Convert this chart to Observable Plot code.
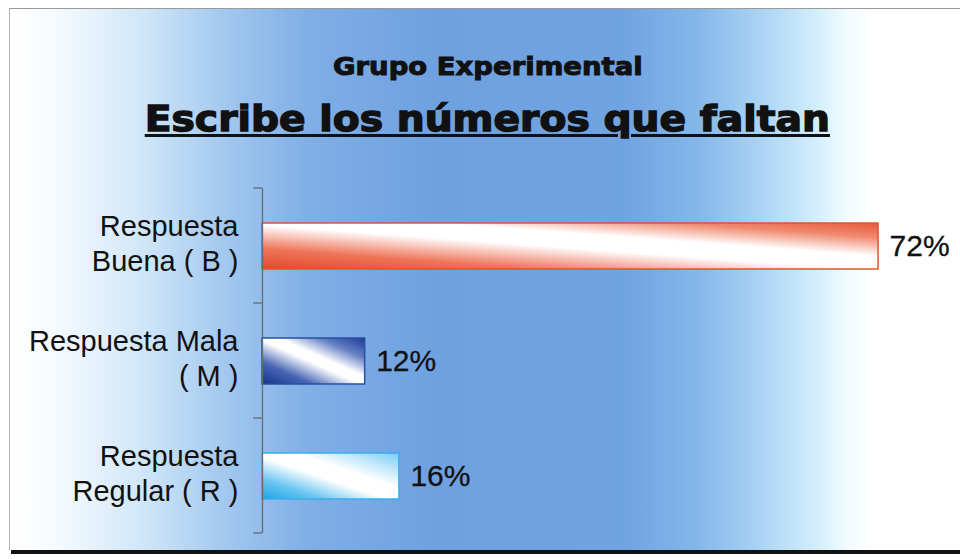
<!DOCTYPE html>
<html>
<head>
<meta charset="utf-8">
<script src="https://cdn.jsdelivr.net/npm/d3@7"></script>
<script src="https://cdn.jsdelivr.net/npm/@observablehq/plot@0.6"></script>
<style>
  html, body { margin: 0; padding: 0; background: #ffffff; }
  #wrap { position: relative; width: 960px; height: 559px; overflow: hidden; background: #fff; }
  #frame {
    position: absolute; left: 9px; top: 8px; width: 960px; height: 541px;
    border-top: 1px solid #9a9a9a; border-left: 1px solid #b4b4b4;
    background: linear-gradient(to right,
      #ffffff 0%, #f5fafe 5%, #cfe6f8 14%, #9fc6ee 23%, #80afe6 31%,
      #6fa1e1 44%, #70a3e1 64%, #86b8ea 72%, #a9d3f4 78%, #d2eefc 84%,
      #f0fbff 87%, #ffffff 90%, #ffffff 100%);
  }
  #bottomline { position: absolute; left: 11px; top: 550px; width: 960px; height: 4px; background: #111; }
  .title { position: absolute; left: 0; width: 960px; text-align: center; color: #111;
           font-family: "DejaVu Sans", sans-serif; font-weight: bold; box-sizing: border-box; padding-left: 15px; }
  .title span { display: inline-block; transform-origin: center; }
  #sub { top: 54px; font-size: 25px; line-height: 25px; }
  #sub span { transform: scaleX(1.1); -webkit-text-stroke: 1px #111; }
  #main { top: 101px; font-size: 36px; line-height: 36px; }
  #main span { transform: scaleX(1.09); -webkit-text-stroke: 1.4px #111; text-decoration: underline; text-decoration-thickness: 3px; text-underline-offset: 3px; }
  #chart { position: absolute; left: 0; top: 170px; }
</style>
</head>
<body>
<div id="wrap">
  <div id="frame"></div>
  <div id="bottomline"></div>
  <div class="title" id="sub"><span>Grupo Experimental</span></div>
  <div class="title" id="main"><span>Escribe los números que faltan</span></div>
  <div id="chart"></div>
</div>
<script>
// ---- data ----
const categories = ["Respuesta\nBuena ( B )", "Respuesta Mala\n( M )", "Respuesta\nRegular ( R )"];
const values = [72, 12, 16];
const valueLabels = ["72%", "12%", "16%"];

// ---- styles (kept apart from data) ----
const gradientIds = ["gradB", "gradM", "gradR"];
const strokeColors = ["#e4532f", "#2b4ea3", "#38aff0"];
const gradientStops = [
  [["0%", "#e4482a"], ["22%", "#ee7458"], ["48%", "#ffffff"], ["64%", "#ffffff"], ["84%", "#f08a70"], ["100%", "#e6583a"]],
  [["0%", "#15348c"], ["24%", "#4665b4"], ["48%", "#ffffff"], ["58%", "#ffffff"], ["78%", "#6580c4"], ["100%", "#1b3b95"]],
  [["0%", "#1aa3e8"], ["22%", "#6cc6f1"], ["46%", "#ffffff"], ["62%", "#ffffff"], ["100%", "#78cdf4"]]
];

const data = categories.map((c, i) => ({
  category: c,
  value: values[i],
  label: valueLabels[i],
  fill: `url(#${gradientIds[i]})`,
  stroke: strokeColors[i]
}));

// gradient definitions (render-function mark)
function gradientDefs() {
  const g = d3.create("svg:g");
  const defs = g.append("defs");
  gradientIds.forEach((id, i) => {
    const lg = defs.append("linearGradient")
      .attr("id", id).attr("x1", 0).attr("y1", 1).attr("x2", 1).attr("y2", 0);
    gradientStops[i].forEach(([o, c]) => lg.append("stop").attr("offset", o).attr("stop-color", c));
  });
  return g.node();
}

// ticks at the boundaries between category bands
function boundaryTicks(index, scales, values, dimensions) {
  const y = scales.y, x = scales.x;
  const bounds = categories.map(c => y(c)).concat([dimensions.height - dimensions.marginBottom]);
  const x0 = x(0);
  const g = d3.create("svg:g");
  g.selectAll("line").data(bounds).join("line")
    .attr("x1", x0 - 9).attr("x2", x0)
    .attr("y1", d => d).attr("y2", d => d)
    .attr("stroke", "#6b6b6b").attr("stroke-width", 1.3);
  return g.node();
}

const chart = Plot.plot({
  width: 960,
  height: 389,
  marginLeft: 262,
  marginRight: 13.5,
  marginTop: 18,
  marginBottom: 26,
  style: { background: "transparent", overflow: "visible", fontFamily: "'Liberation Sans', Arial, sans-serif" },
  x: { domain: [0, 80], axis: null },
  y: { domain: categories, padding: 0, label: null },
  color: { type: "identity" },
  marks: [
    gradientDefs,
    Plot.barX(data, { x: "value", y: "category", fill: "fill", stroke: "stroke", strokeWidth: 1.5, insetTop: 35, insetBottom: 34 }),
    Plot.ruleX([0], { stroke: "#6b6b6b", strokeWidth: 1.3 }),
    boundaryTicks,
    Plot.axisY({ tickSize: 0, tickPadding: 24, fontSize: 29, lineHeight: 1.24, dy: -4, fill: "#111", stroke: "#111", strokeWidth: 0.3, label: null }),
    Plot.text(data, { x: "value", y: "category", text: "label", dx: 11, textAnchor: "start", fontSize: 30, fill: "#111", stroke: "#111", strokeWidth: 0.3 })
  ]
});
document.getElementById("chart").appendChild(chart);
</script>
</body>
</html>
